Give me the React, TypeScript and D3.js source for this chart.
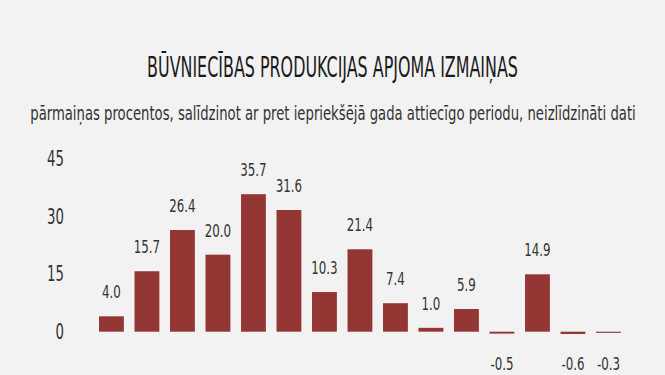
import React, { useLayoutEffect, useRef, useState } from "react";
import * as d3 from "d3";

const categories = ["1", "2", "3", "4", "5", "6", "7", "8", "9", "10", "11", "12", "13", "14", "15"];
const values = [4.0, 15.7, 26.4, 20.0, 35.7, 31.6, 10.3, 21.4, 7.4, 1.0, 5.9, -0.5, 14.9, -0.6, -0.3];
const yTicks = [0, 15, 30, 45];
const title = "BŪVNIECĪBAS PRODUKCIJAS APJOMA IZMAIŅAS";
const subtitle = "pārmaiņas procentos, salīdzinot ar pret iepriekšējā gada attiecīgo periodu, neizlīdzināti dati";

const W = 665;
const H = 375;
const FONT = "'DejaVu Sans Condensed', 'DejaVu Sans', sans-serif";
const BAR = "#943634";
const TEXT = "#333333";

function FitText(props: {
  cx: number;
  y: number;
  width: number;
  size: number;
  fill: string;
  children: string;
}) {
  const ref = useRef<SVGTextElement>(null);
  const [s, setS] = useState(1);
  useLayoutEffect(() => {
    if (ref.current) {
      const w = ref.current.getComputedTextLength();
      if (w > 0) setS(props.width / w);
    }
  }, [props.width, props.children]);
  return (
    <text
      ref={ref}
      transform={`translate(${props.cx},${props.y}) scale(${s},1)`}
      textAnchor="middle"
      fontFamily={FONT}
      fontSize={props.size}
      fill={props.fill}
    >
      {props.children}
    </text>
  );
}

export default function App() {
  const x = d3
    .scaleBand<string>()
    .domain(categories)
    .range([93.7, 626.2])
    .paddingInner(0.3)
    .paddingOuter(0.15);
  const y = d3.scaleLinear().domain([0, 45]).range([331.7, 158.4]);

  return (
    <svg
      width={W}
      height={H}
      style={{ position: "fixed", left: 0, top: 0, background: "#f2f2f2" }}
    >
      <rect x={0} y={0} width={W} height={H} fill="#f2f2f2" />
      <FitText cx={332.5} y={77} width={371} size={29} fill="#1a1a1a">
        {title}
      </FitText>
      <FitText cx={333} y={120} width={606} size={20} fill={TEXT}>
        {subtitle}
      </FitText>
      {yTicks.map((t) => (
        <text
          key={t}
          transform={`translate(64,${y(t)}) scale(0.72,1)`}
          dy="0.36em"
          textAnchor="end"
          fontFamily={FONT}
          fontSize={20.5}
          fill={TEXT}
        >
          {t}
        </text>
      ))}
      {values.map((v, i) => {
        const c = categories[i];
        const bx = x(c)!;
        const y0 = y(0);
        const yv = y(v);
        const top = Math.min(y0, yv);
        const h = Math.max(Math.abs(yv - y0), 1);
        const ly = v >= 0 ? yv - 18 : 370;
        return (
          <g key={c}>
            <rect x={bx} y={top} width={x.bandwidth()} height={h} fill={BAR} />
            <text
              transform={`translate(${bx + x.bandwidth() / 2},${ly}) scale(0.74,1)`}
              textAnchor="middle"
              fontFamily={FONT}
              fontSize={17.8}
              fill={TEXT}
            >
              {v.toFixed(1)}
            </text>
          </g>
        );
      })}
    </svg>
  );
}
